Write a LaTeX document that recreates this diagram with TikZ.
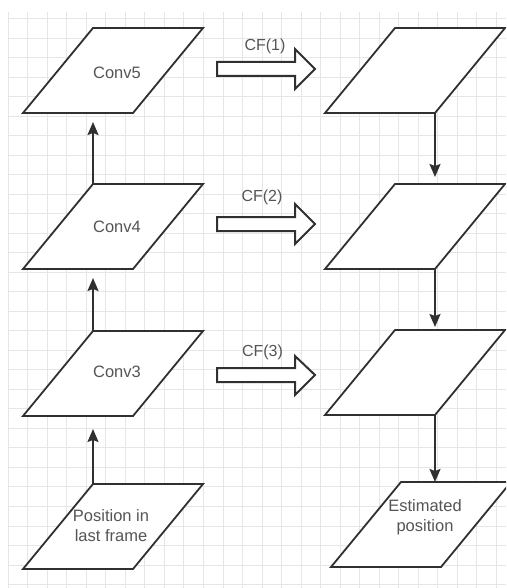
\documentclass[tikz,border=0pt]{standalone}
\usepackage{fontspec}
\setmainfont{Liberation Sans}
\usetikzlibrary{arrows.meta}
\definecolor{gridc}{HTML}{E6E6E6}
\definecolor{linec}{HTML}{303030}
\definecolor{txtc}{HTML}{555555}
\tikzset{
  gridline/.style={draw=gridc, line width=1pt},
  para/.style={draw=linec, line width=1.8pt, fill=white, line join=miter},
  lbl/.style={text=txtc, font=\fontsize{16.5}{20}\selectfont, align=center, inner sep=0pt},
  cflbl/.style={text=txtc, font=\fontsize{16}{19}\selectfont, inner sep=0pt},
  conn/.style={draw=linec, line width=1.8pt, -{Stealth[length=13pt,width=11pt,inset=2pt]}},
  blockarrow/.style={draw=linec, line width=2pt, fill=white, line join=miter}
}
\newcommand\parashape[3]{%
  \draw[para] (#2,#3) coordinate (#1-tl) -- ++(110,0) coordinate (#1-tr)
    -- ++(-70,85) coordinate (#1-br) -- ++(-110,0) coordinate (#1-bl) -- cycle;
}
\begin{document}
\begin{tikzpicture}[x=1pt,y=-1pt]
\useasboundingbox (0,0) rectangle (506,588);
\clip (0,0) rectangle (506,588);
\fill[white] (0,0) rectangle (506,588);
% grid
\foreach \i in {0,...,25} \draw[gridline] ({8.3+19.52*\i},12) -- ({8.3+19.52*\i},588);
\foreach \j in {0,...,29} \draw[gridline] (8.3,{18.5+19.52*\j}) -- (506,{18.5+19.52*\j});
% left column
\parashape{L5}{93}{28}
\parashape{L4}{93}{184}
\parashape{L3}{93}{331}
\parashape{L0}{93}{484}
% right column
\parashape{R1}{395}{28}
\parashape{R2}{395}{184}
\parashape{R3}{395}{330}
\parashape{RE}{401}{482}
% texts
\node[lbl] (conv5) at (117,73) {Conv5};
\node[lbl] (conv4) at (117,227) {Conv4};
\node[lbl] (conv3) at (117,372) {Conv3};
\node[lbl] (pos) at (111,526) {Position in\\last frame};
\node[lbl] (est) at (425,517) {Estimated\\position};
% connectors
\draw[conn, shorten >=9pt] (L4-tl) -- (L4-tl |- L5-bl);
\draw[conn, shorten >=9pt] (L3-tl) -- (L3-tl |- L4-bl);
\draw[conn, shorten >=13pt] (L0-tl) -- (L0-tl |- L3-bl);
\draw[conn, shorten >=7pt] (R1-br) -- (R1-br |- R2-tl);
\draw[conn, shorten >=3pt] (R2-br) -- (R2-br |- R3-tl);
\draw[conn] (R3-br) -- (R3-br |- RE-tl);
% block arrows
\draw[blockarrow] (217,62) -- (295,62) -- (295,49) -- (315,69) -- (295,89) -- (295,76) -- (217,76) -- cycle;
\draw[blockarrow] (217,217) -- (295,217) -- (295,204) -- (315,224) -- (295,244) -- (295,231) -- (217,231) -- cycle;
\draw[blockarrow] (217,368) -- (295,368) -- (295,356) -- (315,375) -- (295,395) -- (295,382) -- (217,382) -- cycle;
\node[cflbl] (cf1) at (265,46) {CF(1)};
\node[cflbl] (cf2) at (262,197) {CF(2)};
\node[cflbl] (cf3) at (262.5,352) {CF(3)};
\end{tikzpicture}
\end{document}
